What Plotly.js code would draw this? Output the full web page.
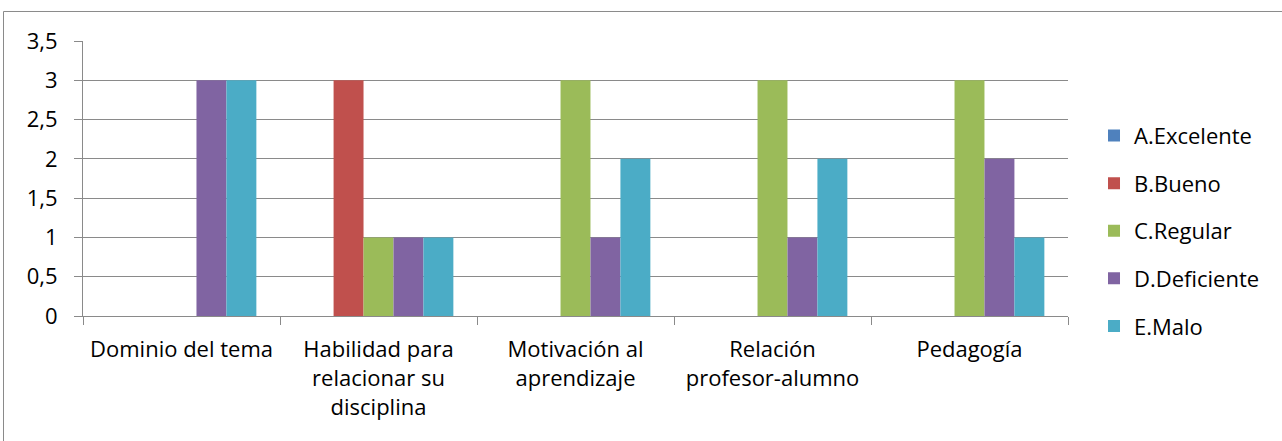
<!DOCTYPE html>
<html><head><meta charset="utf-8">
<script src="https://cdn.plot.ly/plotly-3.0.1.min.js"></script>
<style>html,body{margin:0;padding:0;background:#fff}#chart{width:1282px;height:441px}</style>
</head><body><div id="chart"></div>
<script>
const categories = ["Dominio del tema", "Habilidad para<br>relacionar su<br>disciplina", "Motivación al<br>aprendizaje", "Relación<br>profesor-alumno", "Pedagogía"];
const seriesNames = ["A.Excelente", "B.Bueno", "C.Regular", "D.Deficiente", "E.Malo"];
const excelente = [0, 0, 0, 0, 0];
const bueno = [0, 3, 0, 0, 0];
const regular = [0, 1, 3, 3, 3];
const deficiente = [3, 1, 1, 1, 2];
const malo = [3, 1, 2, 2, 1];
const seriesColors = ["#4F81BD", "#C0504D", "#9BBB59", "#8064A2", "#4BACC6"];
const yTickVals = [0, 0.5, 1, 1.5, 2, 2.5, 3, 3.5];
const yTickText = ["0", "0,5", "1", "1,5", "2", "2,5", "3", "3,5"];

const values = [excelente, bueno, regular, deficiente, malo];
const font = "Open Sans, Lato, sans-serif";
const fs = 22;
const traces = values.map((v, i) => ({
  type: "bar", x: categories, y: v, name: seriesNames[i],
  legendgroup: "g" + i,
  marker: {color: seriesColors[i], line: {width: 0}}
}));
const grid = "#8a8a8a";
const layout = {
  width: 1282, height: 441,
  margin: {l: 83, r: 214, t: 41, b: 125, autoexpand: false},
  paper_bgcolor: "#fff", plot_bgcolor: "#fff",
  font: {family: font, size: fs, color: "#000"},
  barmode: "group", bargap: 0.24, bargroupgap: 0,
  showlegend: true,
  legend: {x: 1.0264, xanchor: "left", y: 0.31, yanchor: "middle",
    traceorder: "grouped", tracegroupgap: 16,
    font: {family: font, size: fs, color: "#000"}, bgcolor: "rgba(0,0,0,0)"},
  xaxis: {type: "category", tickson: "boundaries", ticks: "outside", ticklen: 8,
    tickcolor: grid, showline: true, linecolor: grid, linewidth: 1,
    showgrid: false, tickfont: {family: font, size: fs}, tickangle: 0,
    ticklabelstandoff: 14},
  yaxis: {range: [0, 3.5], tickvals: yTickVals, ticktext: yTickText,
    ticks: "outside", ticklen: 8, tickcolor: grid,
    showline: true, linecolor: grid, linewidth: 1,
    showgrid: true, gridcolor: grid, gridwidth: 1, zeroline: false,
    tickfont: {family: font, size: fs}, ticklabelstandoff: 12},
  shapes: [{type: "rect", xref: "paper", yref: "paper",
    x0: -0.0807, x1: 1.25, y0: -0.55, y1: 1.1073,
    line: {color: grid, width: 1}, fillcolor: "rgba(0,0,0,0)", layer: "below"}]
};
Plotly.newPlot("chart", traces, layout, {staticPlot: true, displayModeBar: false});
</script>
</body></html>
